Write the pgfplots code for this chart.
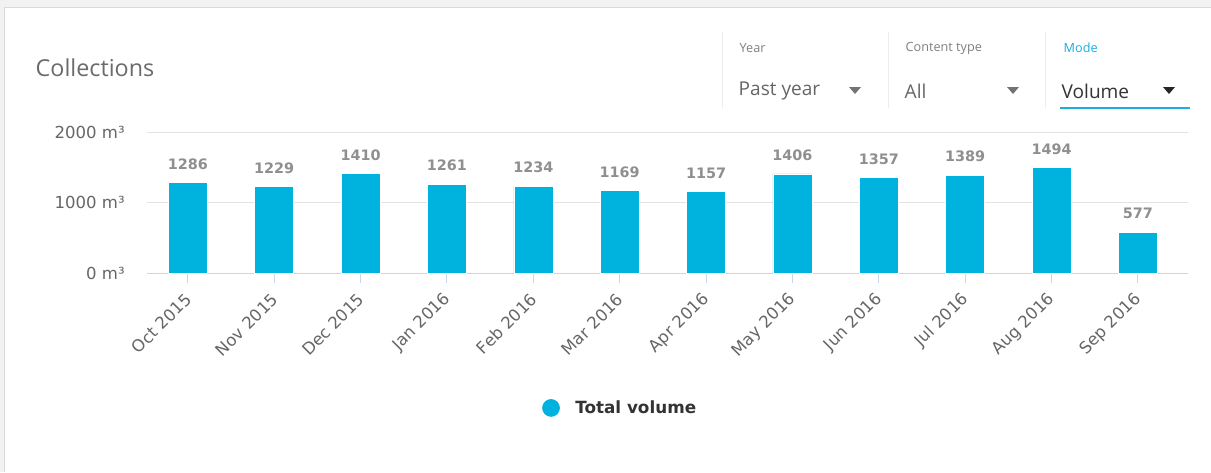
\documentclass[border=0pt]{standalone}
\usepackage{pgfplots}
\pgfplotsset{compat=1.18}
\usepackage{fontspec}
\setmainfont{DejaVu Sans}
\newfontfamily\osans{Open Sans}
\definecolor{barc}{HTML}{00B2DE}
\definecolor{axisc}{HTML}{CCD6EB}
\definecolor{gridc}{HTML}{E3E3E3}
\definecolor{tlabc}{HTML}{666666}
\definecolor{valc}{HTML}{8F8F8F}
\definecolor{legc}{HTML}{333333}
\definecolor{modec}{HTML}{1AAFDC}
\begin{document}
\begin{tikzpicture}
\begin{scope}[x=0.75pt,y=-0.75pt]
  \path[use as bounding box] (0,0) rectangle (1211,472);
  \fill[white] (0,0) rectangle (1211,472);
  \fill[black!5] (0,0) rectangle (1211,7);
  \fill[black!5] (0,0) rectangle (4,472);
  \draw[black!15,line width=0.75pt] (4,7) -- (1211,7);
  \draw[black!15,line width=0.75pt] (4,7) -- (4,472);
  % title
  \node[anchor=west,text=black!58,font=\osans\fontsize{17.5}{20}\selectfont] at (31,68) {Collections};
  % selectors
  \foreach \xx in {722,888,1045} \draw[black!7,line width=0.75pt] (\xx,32) -- (\xx,108);
  \node[anchor=west,text=black!50,font=\osans\fontsize{9.5}{11}\selectfont] at (735,48) {Year};
  \node[anchor=west,text=black!50,font=\osans\fontsize{9.5}{11}\selectfont] at (901,48) {Content type};
  \node[anchor=west,text=modec,font=\osans\fontsize{9.5}{11}\selectfont] at (1059,48) {Mode};
  \node[anchor=west,text=black!60,font=\osans\fontsize{14.3}{17}\selectfont] at (734,91) {Past year};
  \node[anchor=west,text=black!60,font=\osans\fontsize{14.3}{17}\selectfont] at (900,91) {All};
  \node[anchor=west,text=black!80,font=\osans\fontsize{14.3}{17}\selectfont] at (1057,91) {Volume};
  \fill[black!55] (849,87) -- (861,87) -- (855,94) -- cycle;
  \fill[black!55] (1007,87) -- (1019,87) -- (1013,94) -- cycle;
  \fill[black!85] (1163,87) -- (1175,87) -- (1169,94) -- cycle;
  \draw[modec,line width=1.5pt] (1060,108) -- (1190,108);
\end{scope}
\begin{axis}[
  at={(110.03pt,-204.75pt)}, anchor=south west,
  scale only axis, width=781pt, height=105.75pt,
  xmin=-0.476, xmax=11.58, ymin=0, ymax=2000,
  ybar, bar width=29.25pt, bar shift=0pt,
  axis x line*=bottom, axis y line*=left,
  x axis line style={draw=axisc,line width=0.75pt,-},
  y axis line style={draw=none},
  xtick={0,...,11},
  xticklabels={Oct 2015,Nov 2015,Dec 2015,Jan 2016,Feb 2016,Mar 2016,Apr 2016,May 2016,Jun 2016,Jul 2016,Aug 2016,Sep 2016},
  xtick align=outside,
  major tick length=7.5pt,
  x tick style={draw=axisc,line width=0.75pt},
  y tick style={draw=none},
  ytick={0,1000,2000},
  yticklabels={0 m³,1000 m³,2000 m³},
  ymajorgrids, grid style={draw=gridc,line width=0.75pt},
  tick label style={text=tlabc,font=\fontsize{12.4}{14}\selectfont},
  xticklabel style={rotate=45,anchor=east,inner sep=1pt,yshift=-7.4pt,xshift=-5.7pt},
  yticklabel style={anchor=east,xshift=-13pt},
  nodes near coords={\pgfmathprintnumber[1000 sep={},assume math mode=true]{\pgfplotspointmeta}},
  nodes near coords style={font=\bfseries\fontsize{10.8}{12}\selectfont,text=valc,anchor=base,yshift=10pt},
  legend style={draw=none,fill=none,at={(0.455,-0.957)},anchor=center,
    font=\bfseries\fontsize{12.6}{14}\selectfont,text=legc},
  legend image code/.code={\fill[barc] (0,0) circle (6.4pt);\path (16pt,0);},
]
\addplot[fill=barc,draw=white,line width=0.4pt] coordinates {
(0,1286) (1,1229) (2,1410) (3,1261) (4,1234) (5,1169)
(6,1157) (7,1406) (8,1357) (9,1389) (10,1494) (11,577)};
\addlegendentry{Total volume}
\end{axis}
\end{tikzpicture}
\end{document}
